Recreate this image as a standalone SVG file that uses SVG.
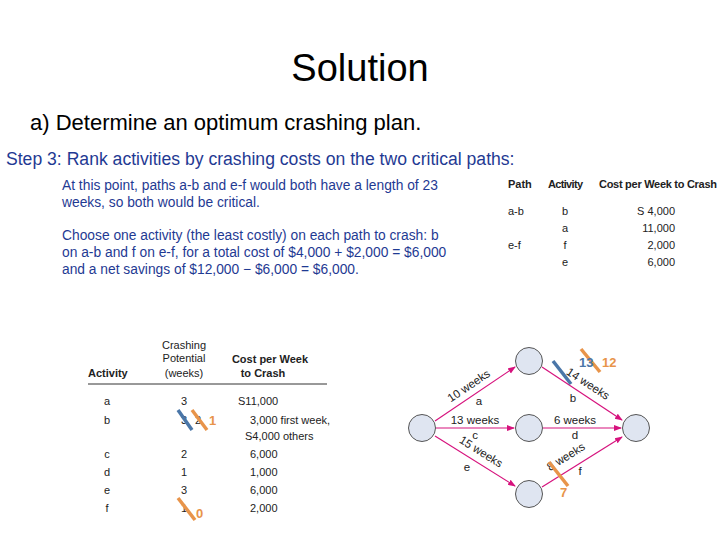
<svg xmlns="http://www.w3.org/2000/svg" width="720" height="540" viewBox="0 0 720 540">
<defs>
<marker id="ar" markerWidth="8" markerHeight="8" refX="7" refY="4" orient="auto" markerUnits="userSpaceOnUse"><path d="M0,1 L8,4 L0,7 z" fill="#d6127d"/></marker>
<style>
.t{font-family:"Liberation Sans",Arial,sans-serif;fill:#222}
.p{font-family:"Liberation Sans",Arial,sans-serif;font-size:13.8px;fill:#1f3a93}
.s{font-size:11px}
.h{font-size:11px;font-weight:bold}
.n{fill:#dfe5f1;stroke:#555;stroke-width:1}
.e{stroke:#d6127d;stroke-width:1.2;fill:none;marker-end:url(#ar)}
.o{stroke:#e8944a;stroke-width:3.5}
.b{stroke:#4a76a8;stroke-width:3.5}
.on{font-family:"Liberation Sans",Arial,sans-serif;font-size:13px;fill:#e8944a;font-weight:bold}
.bn{font-family:"Liberation Sans",Arial,sans-serif;font-size:13px;fill:#4a76a8;font-weight:bold}
.w{font-family:"Liberation Sans",Arial,sans-serif;font-size:11.5px;fill:#222}
</style>
</defs>
<rect width="720" height="540" fill="#fff"/>
<text x="360" y="81" text-anchor="middle" class="t" style="font-size:38px;fill:#000">Solution</text>
<text x="30" y="130" class="t" style="font-size:22px;fill:#000">a)  Determine an optimum crashing plan.</text>
<text x="6" y="165" class="p" style="font-size:17.6px">Step 3: Rank activities by crashing costs on the two critical paths:</text>
<text class="p"><tspan x="62" y="190">At this point, paths a-b and e-f would both have a length of 23</tspan><tspan x="62" y="207">weeks, so both would be critical.</tspan></text>
<text class="p"><tspan x="62" y="240">Choose one activity (the least costly) on each path to crash: b</tspan><tspan x="62" y="257">on a-b and f on e-f, for a total cost of $4,000 + $2,000 = $6,000</tspan><tspan x="62" y="274">and a net savings of $12,000 − $6,000 = $6,000.</tspan></text>
<g id="table-right" class="t">
<text x="508" y="188" class="h">Path</text><text x="548" y="188" class="h" textLength="35">Activity</text><text x="599" y="188" class="h" textLength="118">Cost per Week to Crash</text>
<text x="508" y="215" class="s">a-b</text><text x="565" y="215" class="s" text-anchor="middle">b</text><text x="675" y="215" class="s" text-anchor="end">S 4,000</text>
<text x="565" y="232" class="s" text-anchor="middle">a</text><text x="675" y="232" class="s" text-anchor="end">11,000</text>
<text x="508" y="249" class="s">e-f</text><text x="565" y="249" class="s" text-anchor="middle">f</text><text x="675" y="249" class="s" text-anchor="end">2,000</text>
<text x="565" y="266" class="s" text-anchor="middle">e</text><text x="675" y="266" class="s" text-anchor="end">6,000</text>
</g>
<g id="table-left" class="t">
<text x="184" y="349" class="h" text-anchor="middle" style="font-weight:normal">Crashing</text>
<text x="184" y="362" class="h" text-anchor="middle" style="font-weight:normal">Potential</text>
<text x="184" y="377" class="h" text-anchor="middle" style="font-weight:normal">(weeks)</text>
<text x="270" y="363" class="h" text-anchor="middle">Cost per Week</text>
<text x="263" y="377" class="h" text-anchor="middle">to Crash</text>
<text x="88" y="377" class="h">Activity</text>
<line x1="88" y1="384" x2="327" y2="384" stroke="#333" stroke-width="1"/>
<text x="107" y="405" class="s" text-anchor="middle">a</text><text x="184" y="405" class="s" text-anchor="middle">3</text><text x="238" y="405" class="s">S11,000</text>
<text x="107" y="424" class="s" text-anchor="middle">b</text><text x="184" y="424" class="s" text-anchor="middle">3</text><text x="198" y="424" class="s" text-anchor="middle">2</text><text x="250" y="424" class="s">3,000 first week,</text>
<text x="245" y="440" class="s">S4,000 others</text>
<text x="107" y="458" class="s" text-anchor="middle">c</text><text x="184" y="458" class="s" text-anchor="middle">2</text><text x="250" y="458" class="s">6,000</text>
<text x="107" y="476" class="s" text-anchor="middle">d</text><text x="184" y="476" class="s" text-anchor="middle">1</text><text x="250" y="476" class="s">1,000</text>
<text x="107" y="494" class="s" text-anchor="middle">e</text><text x="184" y="494" class="s" text-anchor="middle">3</text><text x="250" y="494" class="s">6,000</text>
<text x="107" y="512" class="s" text-anchor="middle">f</text><text x="184" y="512" class="s" text-anchor="middle">1</text><text x="250" y="512" class="s">2,000</text>
<line x1="178" y1="410" x2="192" y2="430" class="b"/>
<line x1="192" y1="410" x2="207" y2="430" class="o"/>
<text x="209" y="425" class="on">1</text>
<line x1="178" y1="498" x2="195" y2="520" class="o"/>
<text x="196" y="518" class="on">0</text>
</g>
<g id="connectors">
<line x1="435" y1="421" x2="515" y2="367" class="e"/>
<line x1="542" y1="367" x2="622" y2="420" class="e"/>
<line x1="436" y1="428" x2="514" y2="428" class="e"/>
<line x1="543" y1="428" x2="621" y2="428" class="e"/>
<line x1="435" y1="436" x2="515" y2="486" class="e"/>
<line x1="542" y1="487" x2="622" y2="437" class="e"/>
<g class="w">
<text transform="translate(471,389) rotate(-34)" text-anchor="middle">10 weeks</text>
<text x="479" y="405" text-anchor="middle">a</text>
<text transform="translate(586,387) rotate(33)" text-anchor="middle">14 weeks</text>
<text x="573" y="402" text-anchor="middle">b</text>
<text x="475" y="424" text-anchor="middle">13 weeks</text>
<text x="475" y="439" text-anchor="middle">c</text>
<text x="575" y="424" text-anchor="middle">6 weeks</text>
<text x="575" y="439" text-anchor="middle">d</text>
<text transform="translate(479,455) rotate(32)" text-anchor="middle">15 weeks</text>
<text x="467" y="471" text-anchor="middle">e</text>
<text transform="translate(568,460) rotate(-32)" text-anchor="middle">8 weeks</text>
<text x="580" y="475" text-anchor="middle">f</text>
</g>
<line x1="553" y1="361" x2="571" y2="384" class="b"/>
<line x1="581" y1="349" x2="600" y2="372" class="o"/>
<text x="579" y="367" class="bn">13</text>
<text x="602" y="367" class="on">12</text>
<line x1="549" y1="462" x2="568" y2="486" class="o"/>
<text x="560" y="497" class="on">7</text>
</g>
<g id="n-start"><circle cx="422" cy="428" r="13.5" class="n"/></g>
<g id="n-top"><circle cx="529" cy="361" r="13.5" class="n"/></g>
<g id="n-mid"><circle cx="529" cy="428" r="13.5" class="n"/></g>
<g id="n-bot"><circle cx="529" cy="494" r="13.5" class="n"/></g>
<g id="n-end"><circle cx="636" cy="428" r="13.5" class="n"/></g>
</svg>
